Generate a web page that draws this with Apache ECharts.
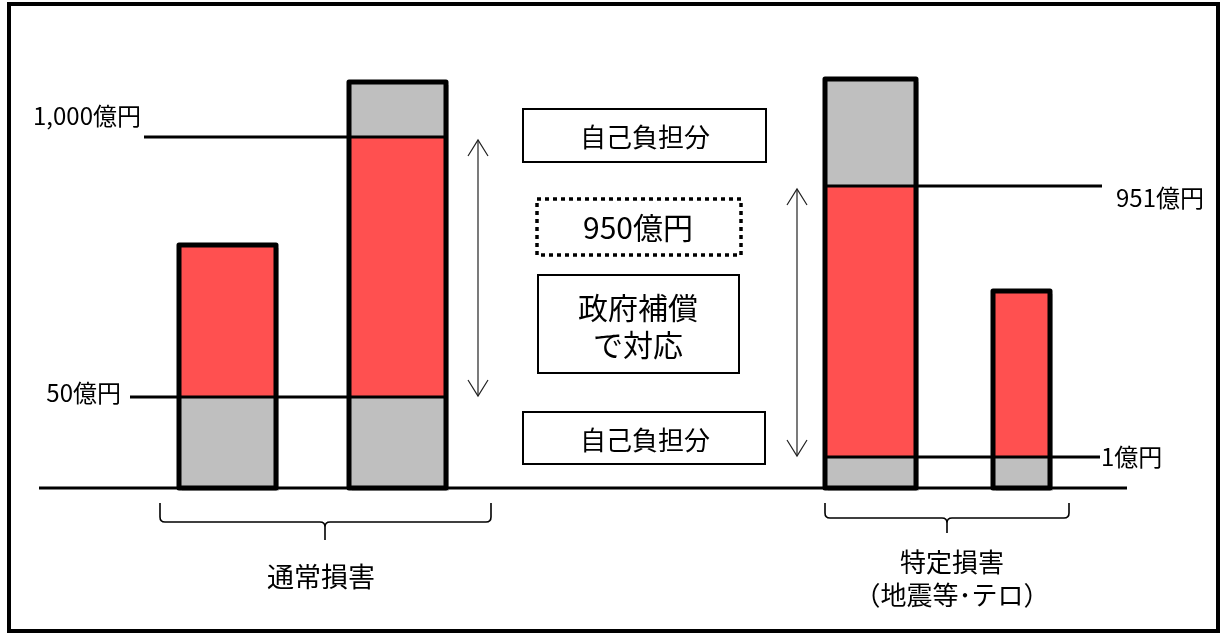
<!DOCTYPE html>
<html><head><meta charset="utf-8">
<script src="https://cdn.jsdelivr.net/npm/echarts@6/dist/echarts.min.js"></script>
<style>html,body{margin:0;padding:0;background:#fff}#c{width:1220px;height:633px}</style>
</head><body><div id="c"></div>
<script>
// ---- data (schematic heights in diagram units above the base line) ----
const barNames = ['通常損害・小', '通常損害・大', '特定損害・大', '特定損害・小'];
const deductibleLower = [91, 91, 31, 31];
const governmentCover = [152, 260, 271, 166];
const deductibleUpper = [0, 55, 107, 0];
const levelLabels = ['1,000億円', '50億円', '951億円', '1億円'];
const levelValues = [351, 91, 302, 31];
const groupLabels = ['通常損害', '特定損害\n（地震等･テロ）'];
const noteLabels = ['自己負担分', '950億円', '政府補償\nで対応', '自己負担分'];
const arrowLevels = [[1, 0], [3, 2]]; // pairs of level indexes spanned by each arrow

// ---- layout (positions, not data) ----
const FONT = '"Noto Sans CJK JP", "Noto Sans", sans-serif';
const barLayout = [[179, 276], [349, 446], [825, 916], [993, 1050]];
const levelLayout = [
  { x0: 144, x1: 446, lx: 141, align: 'right', dy: -21 },
  { x0: 130, x1: 446, lx: 121, align: 'right', dy: -4 },
  { x0: 825, x1: 1102, lx: 1116, align: 'left', dy: 12 },
  { x0: 825, x1: 1100, lx: 1101, align: 'left', dy: 0 }
];
const arrowX = [478, 797];
const braceLayout = [
  { x0: 160, x1: 491, xm: 325, top: 503, mid: 522, tip: 540, ty: 577, lh: 33, size: 27 },
  { x0: 825, x1: 1069, xm: 947, top: 503, mid: 518, tip: 533, ty: 579, lh: 33, size: 26 }
];
const RED = '#FF5050', GRAY = '#BFBFBF';

const chart = echarts.init(document.getElementById('c'), null, { renderer: 'canvas' });

function yPix(api, v) { return api.coord([0, v])[1]; }
function xPix(api, x) { return api.coord([x, 0])[0]; }

const option = {
  backgroundColor: '#fff',
  animation: false,
  grid: { left: 0, right: 0, top: 0, bottom: 0 },
  xAxis: { type: 'value', min: 0, max: 1220, show: false },
  yAxis: { type: 'value', min: -145, max: 488, show: false },
  series: [
    { // bar fills
      type: 'custom', z: 1, silent: true,
      data: barNames.map((n, i) => [i, deductibleLower[i], governmentCover[i], deductibleUpper[i]]),
      renderItem(params, api) {
        const i = api.value(0);
        const x0 = xPix(api, barLayout[i][0]), x1 = xPix(api, barLayout[i][1]);
        const lo = api.value(1), mid = lo + api.value(2), hi = mid + api.value(3);
        const y0 = yPix(api, 0), yl = yPix(api, lo), ym = yPix(api, mid), yh = yPix(api, hi);
        return { type: 'group', children: [
          { type: 'rect', shape: { x: x0 + 3, y: yh + 3, width: x1 - x0, height: y0 - yh }, style: { fill: '#d4d4d4' } },
          { type: 'rect', shape: { x: x0, y: yl, width: x1 - x0, height: y0 - yl }, style: { fill: GRAY } },
          { type: 'rect', shape: { x: x0, y: ym, width: x1 - x0, height: yl - ym }, style: { fill: RED } },
          { type: 'rect', shape: { x: x0, y: yh, width: x1 - x0, height: ym - yh }, style: { fill: GRAY } }
        ]};
      }
    },
    { // level lines with labels
      type: 'custom', z: 2, silent: true,
      data: levelValues.map((v, i) => [i, v]),
      renderItem(params, api) {
        const i = api.value(0), L = levelLayout[i];
        const y = yPix(api, api.value(1));
        return { type: 'group', children: [
          { type: 'line', shape: { x1: xPix(api, L.x0), y1: y, x2: xPix(api, L.x1), y2: y }, style: { stroke: '#000', lineWidth: 3 } },
          { type: 'text', x: xPix(api, L.lx), y: y + L.dy, style: { text: levelLabels[i], fill: '#000', font: '24px ' + FONT, align: L.align, verticalAlign: 'middle' } }
        ]};
      }
    },
    { // base line
      type: 'custom', z: 2, silent: true,
      data: [[0]],
      renderItem(params, api) {
        const y = yPix(api, api.value(0));
        return { type: 'line', shape: { x1: xPix(api, 39), y1: y, x2: xPix(api, 1127), y2: y }, style: { stroke: '#000', lineWidth: 3 } };
      }
    },
    { // bar outlines
      type: 'custom', z: 3, silent: true,
      data: barNames.map((n, i) => [i, deductibleLower[i] + governmentCover[i] + deductibleUpper[i]]),
      renderItem(params, api) {
        const i = api.value(0);
        const x0 = xPix(api, barLayout[i][0]), x1 = xPix(api, barLayout[i][1]);
        const y0 = yPix(api, 0), yh = yPix(api, api.value(1));
        return { type: 'rect', shape: { x: x0, y: yh, width: x1 - x0, height: y0 - yh },
          style: { fill: 'none', stroke: '#000', lineWidth: 5, lineJoin: 'round' } };
      }
    },
    { // double arrows
      type: 'custom', z: 3, silent: true,
      data: arrowLevels.map((p, i) => [i, levelValues[p[0]], levelValues[p[1]]]),
      renderItem(params, api) {
        const i = api.value(0), x = xPix(api, arrowX[i]);
        const yb = yPix(api, api.value(1)) - 1, yt = yPix(api, api.value(2)) + 3;
        const st = { stroke: '#222', lineWidth: 1.2, fill: 'none' };
        return { type: 'group', children: [
          { type: 'line', shape: { x1: x, y1: yt, x2: x, y2: yb }, style: st },
          { type: 'polyline', shape: { points: [[x - 10, yt + 16], [x, yt], [x + 10, yt + 16]] }, style: st },
          { type: 'polyline', shape: { points: [[x - 10, yb - 16], [x, yb], [x + 10, yb - 16]] }, style: st }
        ]};
      }
    },
    { // group braces and labels
      type: 'custom', z: 3, silent: true,
      data: groupLabels.map((g, i) => [i]),
      renderItem(params, api) {
        const B = braceLayout[api.value(0)];
        const r = 5;
        const d = `M${B.x0} ${B.top} L${B.x0} ${B.mid - r} Q${B.x0} ${B.mid} ${B.x0 + r} ${B.mid} ` +
          `L${B.xm - r} ${B.mid} Q${B.xm} ${B.mid} ${B.xm} ${B.mid + r} L${B.xm} ${B.tip} ` +
          `M${B.xm} ${B.mid + r} Q${B.xm} ${B.mid} ${B.xm + r} ${B.mid} ` +
          `L${B.x1 - r} ${B.mid} Q${B.x1} ${B.mid} ${B.x1} ${B.mid - r} L${B.x1} ${B.top}`;
        return { type: 'group', children: [
          { type: 'path', shape: { pathData: d }, style: { fill: 'none', stroke: '#000', lineWidth: 1.6 } },
          { type: 'text', x: B.xm + (api.value(0) === 0 ? -4 : 5), y: B.ty, style: { text: groupLabels[api.value(0)], font: B.size + 'px ' + FONT, fill: '#000', align: 'center', verticalAlign: 'middle', lineHeight: B.lh } }
        ]};
      }
    }
  ],
  graphic: [
    { type: 'rect', z: 10, shape: { x: 9, y: 4, width: 1209, height: 627 }, style: { fill: 'none', stroke: '#000', lineWidth: 4 } },
    // note boxes
    { type: 'rect', shape: { x: 523, y: 109, width: 243, height: 53 }, style: { fill: '#fff', stroke: '#000', lineWidth: 2 } },
    { type: 'text', x: 645, y: 137, style: { text: noteLabels[0], font: '26px ' + FONT, fill: '#000', align: 'center', verticalAlign: 'middle' } },
    { type: 'rect', shape: { x: 537, y: 199, width: 204, height: 56 }, style: { fill: '#fff', stroke: '#000', lineWidth: 3.5, lineDash: [4, 4] } },
    { type: 'text', x: 638, y: 228, style: { text: noteLabels[1], font: '30px ' + FONT, fill: '#000', align: 'center', verticalAlign: 'middle' } },
    { type: 'rect', shape: { x: 538, y: 275, width: 201, height: 98 }, style: { fill: '#fff', stroke: '#000', lineWidth: 2 } },
    { type: 'text', x: 638, y: 326, style: { text: noteLabels[2], font: '30px ' + FONT, fill: '#000', align: 'center', verticalAlign: 'middle', lineHeight: 37 } },
    { type: 'rect', shape: { x: 523, y: 412, width: 242, height: 52 }, style: { fill: '#fff', stroke: '#000', lineWidth: 2 } },
    { type: 'text', x: 645, y: 440, style: { text: noteLabels[3], font: '26px ' + FONT, fill: '#000', align: 'center', verticalAlign: 'middle' } }
  ]
};
chart.setOption(option);
</script>
</body></html>
